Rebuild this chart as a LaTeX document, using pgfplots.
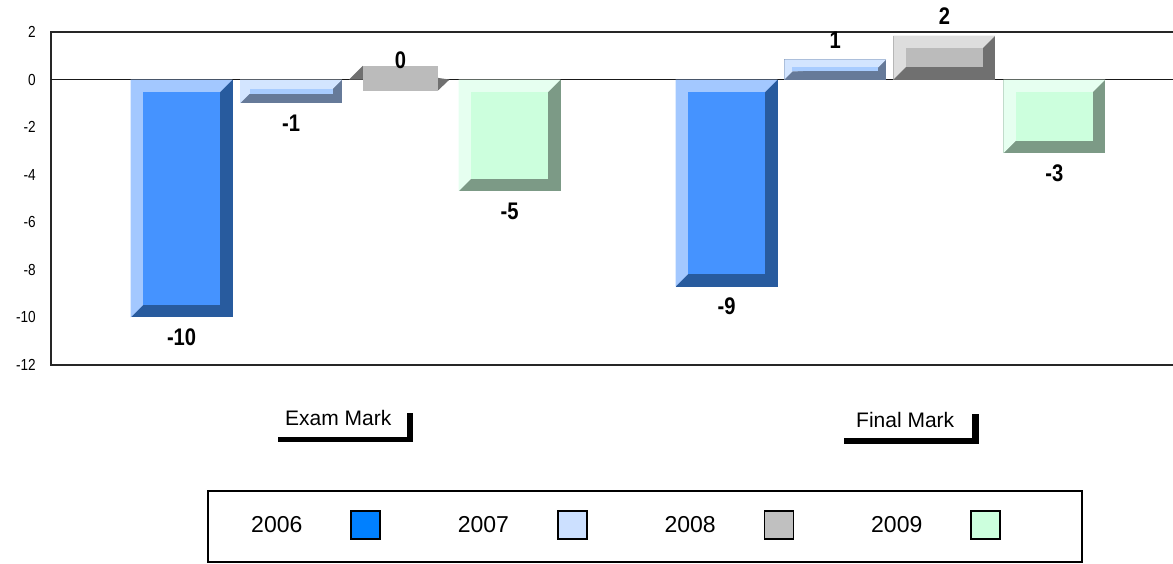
\documentclass[border=0pt]{standalone}
\usepackage{pgfplots}
\pgfplotsset{compat=1.18}
\usepackage{fontspec}
\setmainfont{Liberation Sans}
\newfontfamily\narrowfont[FakeStretch=0.85]{Liberation Sans}
\newfontfamily\lblfont[FakeStretch=0.84]{Liberation Sans}

\definecolor{c6main}{HTML}{4593FF}
\definecolor{c6light}{HTML}{A3C8FF}
\definecolor{c6dark}{HTML}{285B9E}
\definecolor{c6leg}{HTML}{0080FF}
\definecolor{c7main}{HTML}{A8CCFF}
\definecolor{c7light}{HTML}{D3E5FF}
\definecolor{c7dark}{HTML}{667A99}
\definecolor{c7leg}{HTML}{CCE0FF}
\definecolor{c8main}{HTML}{BBBBBB}
\definecolor{c8light}{HTML}{DDDDDD}
\definecolor{c8dark}{HTML}{707070}
\definecolor{c8leg}{HTML}{C0C0C0}
\definecolor{c9main}{HTML}{CCFFDD}
\definecolor{c9light}{HTML}{E6FFF0}
\definecolor{c9dark}{HTML}{7C9A86}
\definecolor{c9leg}{HTML}{CCFFDD}

\pgfplotsset{
  mybar/.style={ybar, bar width=102, bar shift=0pt, forget plot, draw=none, fill=#1,
    nodes near coords={\pgfmathprintnumber[fixed,precision=0,assume math mode=true]{\pgfplotspointmeta}},
    nodes near coords align=vertical,
    every node near coord/.append style={font=\lblfont\bfseries\fontsize{24pt}{26pt}\selectfont, inner ysep=11pt, inner xsep=0pt, text=black}},
  ov/.style={draw=none, fill=#1, forget plot},
}

\begin{document}
\begin{tikzpicture}
\useasboundingbox (0,0) rectangle (1173pt,-563pt);
\begin{axis}[
  at={(51pt,-365pt)}, anchor=south west,
  scale only axis, width=1134pt, height=333pt,
  xmin=51, xmax=1185, ymin=-12, ymax=2,
  ytick={-12,-10,...,2}, xtick=\empty,
  major tick length=0pt,
  clip=false,
  axis line style={black!85, line width=1.8pt},
  yticklabel style={font=\narrowfont\fontsize{16pt}{18pt}\selectfont, anchor=east, inner sep=0pt, xshift=-15pt},
  /pgf/number format/assume math mode=true,
  extra y ticks={0}, extra y tick labels={},
  extra y tick style={grid=major, major grid style={black!90, line width=1.8pt}},
  legend plot pos=right,
  legend columns=4,
  legend style={at={(0.17637,-0.48048)}, anchor=west, draw=none, fill=none, inner sep=0pt,
    font=\fontsize{23pt}{26pt}\selectfont, nodes={inner sep=0pt},
    /tikz/every even column/.append style={column sep=77pt},
    /tikz/every odd column/.append style={column sep=48pt}},
]
% zero-value 2008 Exam Mark box (drawn as a flat slab)
\addplot[ov=c8main] coordinates {(362.8,0.58) (438.2,0.58) (438.2,-0.47) (362.8,-0.47)} -- cycle;
\addplot[ov=c8dark] coordinates {(349,0) (362.8,0.58) (362.8,0)} -- cycle;
\addplot[ov=c8dark] coordinates {(438.2,0.07) (449.5,0) (438.2,-0.45)} -- cycle;

% ---- bars (values), Exam Mark ----
\addplot[mybar=c6dark] coordinates {(181.6,-10)};
\addplot[mybar=c7dark] coordinates {(291.0,-1)};
\addplot[mybar=none] coordinates {(400.4,0)};
\addplot[mybar=c9dark] coordinates {(509.6,-4.7)};
% ---- bars (values), Final Mark ----
\addplot[mybar=c6dark] coordinates {(726.6,-8.7)};
\addplot[mybar=c7dark] coordinates {(835.3,0.85)};
\addplot[mybar=c8dark] coordinates {(944.4,1.85)};
\addplot[mybar=c9dark] coordinates {(1054.3,-3.1)};

% ---- bevel shading (light edge and face) ----
\addplot[ov=c6light] coordinates {(130.6,-10) (130.6,0) (232.6,0) (220.1,-0.5255) (143.1,-9.4745)} -- cycle;
\addplot[ov=c6main] coordinates {(143.1,-9.4745) (220.1,-9.4745) (220.1,-0.5255) (143.1,-0.5255)} -- cycle;
\addplot[ov=c7light] coordinates {(240,-1) (240,0) (342,0) (332.5,-0.4) (249.5,-0.6)} -- cycle;
\addplot[ov=c7main] coordinates {(249.5,-0.6) (332.5,-0.6) (332.5,-0.4) (249.5,-0.4)} -- cycle;
\addplot[ov=c9light] coordinates {(458.6,-4.7) (458.6,0) (560.6,0) (548.1,-0.5255) (471.1,-4.1745)} -- cycle;
\addplot[ov=c9main] coordinates {(471.1,-4.1745) (548.1,-4.1745) (548.1,-0.5255) (471.1,-0.5255)} -- cycle;
\addplot[ov=c6light] coordinates {(675.6,-8.7) (675.6,0) (777.6,0) (765.1,-0.5255) (688.1,-8.1745)} -- cycle;
\addplot[ov=c6main] coordinates {(688.1,-8.1745) (765.1,-8.1745) (765.1,-0.5255) (688.1,-0.5255)} -- cycle;
\addplot[ov=c7light] coordinates {(784.3,0) (784.3,0.85) (886.3,0.85) (878.2,0.51) (792.4,0.34)} -- cycle;
\addplot[ov=c7main] coordinates {(792.4,0.34) (878.2,0.34) (878.2,0.51) (792.4,0.51)} -- cycle;
\addplot[ov=c8light] coordinates {(893.4,0) (893.4,1.85) (995.4,1.85) (982.9,1.3245) (905.9,0.5255)} -- cycle;
\addplot[ov=c8main] coordinates {(905.9,0.5255) (982.9,0.5255) (982.9,1.3245) (905.9,1.3245)} -- cycle;
\addplot[ov=c9light] coordinates {(1003.3,-3.1) (1003.3,0) (1105.3,0) (1092.8,-0.5255) (1015.8,-2.5745)} -- cycle;
\addplot[ov=c9main] coordinates {(1015.8,-2.5745) (1092.8,-2.5745) (1092.8,-0.5255) (1015.8,-0.5255)} -- cycle;

\addlegendimage{legend image code/.code={\draw[fill=c6leg, draw=black, line width=1.5pt] (0pt,-14pt) rectangle (29pt,14pt);}}
\addlegendentry{2006}
\addlegendimage{legend image code/.code={\draw[fill=c7leg, draw=black, line width=1.5pt] (0pt,-14pt) rectangle (29pt,14pt);}}
\addlegendentry{2007}
\addlegendimage{legend image code/.code={\draw[fill=c8leg, draw=black, line width=1.5pt] (0pt,-14pt) rectangle (29pt,14pt);}}
\addlegendentry{2008}
\addlegendimage{legend image code/.code={\draw[fill=c9leg, draw=black, line width=1.5pt] (0pt,-14pt) rectangle (29pt,14pt);}}
\addlegendentry{2009}
\end{axis}

% category labels with bracket marks
\node[anchor=base west, inner sep=0pt, font=\fontsize{21pt}{24pt}\selectfont] at (285pt,-425pt) {Exam Mark};
\fill (278pt,-437pt) rectangle (413pt,-442pt);
\fill (407pt,-413pt) rectangle (413pt,-442pt);
\node[anchor=base west, inner sep=0pt, font=\fontsize{21pt}{24pt}\selectfont] at (856pt,-427pt) {Final Mark};
\fill (844pt,-438pt) rectangle (979pt,-444pt);
\fill (972pt,-414pt) rectangle (979pt,-444pt);

% legend frame
\draw[line width=1.5pt, black] (208pt,-491pt) rectangle (1082pt,-562pt);
\end{tikzpicture}
\end{document}
